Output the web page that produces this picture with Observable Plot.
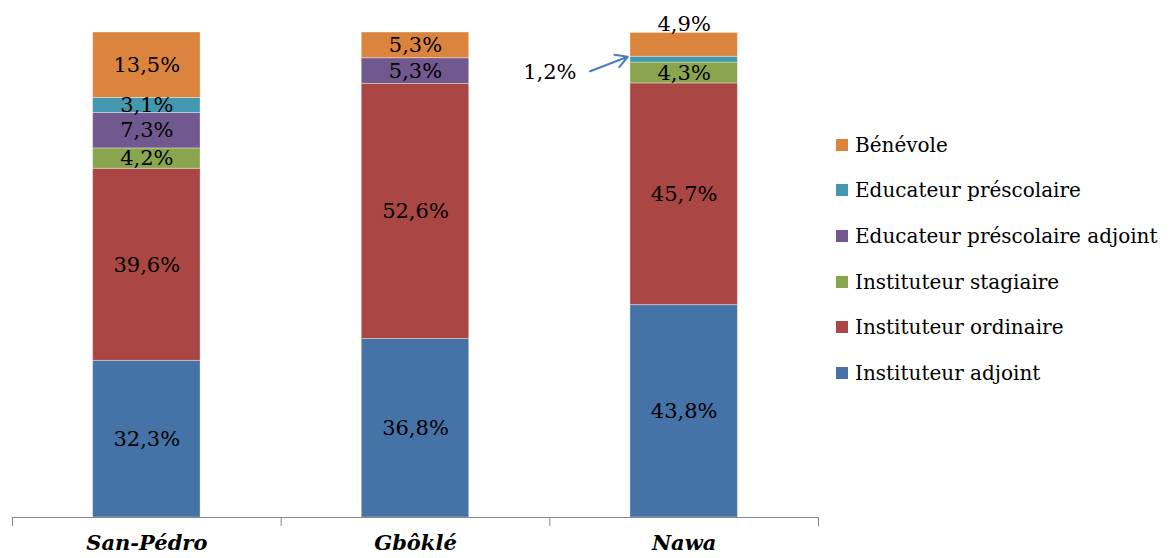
<!DOCTYPE html>
<html>
<head>
<meta charset="utf-8">
<script src="https://cdn.jsdelivr.net/npm/d3@7"></script>
<script src="https://cdn.jsdelivr.net/npm/@observablehq/plot@0.6"></script>
<style>
  html, body { margin: 0; padding: 0; background: #fff; }
  #wrap { position: relative; width: 1171px; height: 558px; font-family: "DejaVu Serif", serif; }
  #legend { position: absolute; left: 836px; top: 122px; }
  .item { display: flex; align-items: center; height: 45.6px; font-size: 20px; color: #000; white-space: nowrap; }
  .sw { width: 12px; height: 12px; margin-right: 7px; }
</style>
</head>
<body>
<div id="wrap"><div id="chart"></div><div id="legend"></div></div>
<script>
const categories = ["San-Pédro", "Gbôklé", "Nawa"];
const series = ["Instituteur adjoint", "Instituteur ordinaire", "Instituteur stagiaire", "Educateur préscolaire adjoint", "Educateur préscolaire", "Bénévole"];
const colors = ["#4572A7", "#AA4643", "#89A54E", "#71588F", "#4198AF", "#DB843D"];
const valuesSanPedro = [32.3, 39.6, 4.2, 7.3, 3.1, 13.5];
const valuesGbokle = [36.8, 52.6, 0, 5.3, 0, 5.3];
const valuesNawa = [43.8, 45.7, 4.3, 0, 1.2, 4.9];
const valueRows = [valuesSanPedro, valuesGbokle, valuesNawa];

const rows = [];
categories.forEach((cat, ci) => {
  let acc = 0;
  valueRows[ci].forEach((v, si) => {
    if (v > 0) {
      rows.push({cat, ci, serie: series[si], si, value: v, y1: acc, y2: acc + v, mid: acc + v / 2});
    }
    acc += v;
  });
});
const fmt = v => v.toFixed(1).replace(".", ",") + "%";
const barHalf = 0.2;
const inside = rows.filter(d => d.value >= 2 && !(d.cat === "Nawa" && d.serie === "Bénévole"));
const raised = rows.filter(d => d.cat === "Nawa" && d.serie === "Bénévole");
const small = rows.filter(d => d.value < 2);
const serif = "'DejaVu Serif', serif";

const chart = Plot.plot({
  width: 1171,
  height: 558,
  marginLeft: 12,
  marginRight: 353,
  marginTop: 32,
  marginBottom: 41,
  style: {fontFamily: serif, fontSize: "20px", background: "white", color: "black"},
  x: {type: "linear", domain: [0, categories.length]},
  y: {domain: [0, 100]},
  color: {domain: series, range: colors},
  marks: [
    Plot.rect(rows, {
      x1: d => d.ci + 0.5 - barHalf, x2: d => d.ci + 0.5 + barHalf,
      y1: "y1", y2: "y2", fill: "serie", stroke: "white", strokeOpacity: 0.35, strokeWidth: 1
    }),
    Plot.text(inside, {x: d => d.ci + 0.5, y: "mid", text: d => fmt(d.value), fill: "black", fontSize: 21}),
    Plot.text(raised, {x: d => d.ci + 0.5, y: "mid", dy: -21, text: d => fmt(d.value), fill: "black", fontSize: 21}),
    Plot.arrow(small, {
      x1: d => d.ci + 0.5 - barHalf - 0.15, y1: d => d.mid - 2.4,
      x2: d => d.ci + 0.5 - barHalf - 0.01, y2: d => d.y2,
      stroke: "#4A7EBB", strokeWidth: 2, headLength: 12, bend: 0
    }),
    Plot.text(small, {x: d => d.ci + 0.5 - barHalf - 0.3, y: d => d.mid - 2.6, text: d => fmt(d.value), fill: "black", fontSize: 21}),
    Plot.ruleY([0], {stroke: "#868686", strokeWidth: 1}),
    Plot.axisX({ticks: d3.range(categories.length + 1), tickSize: 9, tickFormat: () => "", stroke: "#868686", strokeWidth: 1}),
    Plot.axisX({ticks: categories.map((c, i) => i + 0.5), tickSize: 0, tickPadding: 18,
      tickFormat: x => categories[Math.floor(x)], fontSize: 21, fontWeight: "bold", fontStyle: "italic", fill: "black"}),
    Plot.axisY({ticks: [], tickSize: 0, label: null})
  ]
});
document.getElementById("chart").appendChild(chart);

const legend = document.getElementById("legend");
series.slice().reverse().forEach(s => {
  const it = document.createElement("div");
  it.className = "item";
  const sw = document.createElement("div");
  sw.className = "sw";
  sw.style.background = colors[series.indexOf(s)];
  const t = document.createElement("span");
  t.textContent = s;
  it.appendChild(sw); it.appendChild(t);
  legend.appendChild(it);
});
</script>
</body>
</html>
